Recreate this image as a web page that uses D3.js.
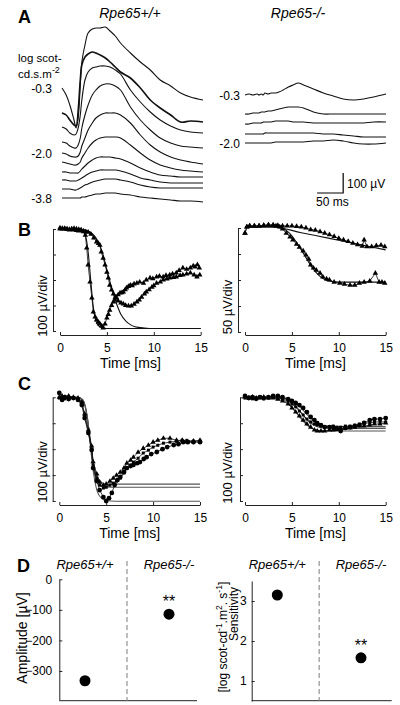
<!DOCTYPE html>
<html><head><meta charset="utf-8">
<script src="https://cdn.jsdelivr.net/npm/d3@7"></script>
<style>body{margin:0;background:#fff}svg{display:block}</style>
</head><body><svg width="400" height="705"></svg>
<script>
// ---------- DATA ----------
// Panel A: ERG traces (µV relative to each trace's own start), sampled at aTime (ms)
const aTime = [0,8,15,23,27,31,35,38,44,50,58,65,73,83,92,102,112,131,150,169,188,208,227,246,270];
const wtLabels = ["-0.3","-2.0","-3.8"];
const koLabels = ["-0.3","-2.0"];
const wtTraces = [
 [0,-35,-85,-160,-200,-150,15,130,215,275,295,300,300,305,285,260,225,175,130,90,40,10,-25,-45,-60],
 [0,-10,-35,-60,-65,15,165,240,280,295,305,300,290,275,255,230,205,175,125,65,25,-10,-45,-40,-45],
 [0,-10,-30,-40,-35,-5,60,135,235,275,295,300,305,305,300,285,265,185,125,75,35,5,-15,-25,-30],
 [0,-5,-20,-30,-30,-15,20,70,135,185,235,260,280,290,290,280,260,175,110,60,20,-5,-20,-25,-30],
 [0,-5,-15,-20,-20,-15,5,35,75,115,150,175,190,200,200,200,190,150,90,40,5,-20,-35,-45,-55],
 [0,-5,-10,-15,-15,-10,0,20,45,70,95,110,120,125,125,125,120,85,45,10,-15,-30,-40,-45,-50],
 [0,0,-5,-5,-5,-5,5,15,30,45,60,70,75,75,75,70,65,45,20,0,-15,-20,-25,-25,-25],
 [0,0,-5,-5,-5,0,5,10,20,30,40,45,50,50,50,50,45,30,10,0,-10,-15,-15,-15,-15],
 [0,0,0,-5,-5,0,5,10,20,25,35,40,45,50,50,50,45,35,20,10,5,5,5,5,5],
 [0,0,0,0,0,0,0,5,5,10,15,20,20,25,25,25,20,15,5,0,-5,-10,-15,-15,-20]
];
const wtOffsets = [550,425,355,280,225,180,130,90,45,0];
const wtLabelIdx = [0,4,9];
const koTraces = [
 [0,5,0,5,0,5,0,10,5,10,10,15,25,40,50,60,50,30,10,-5,-20,-25,-20,-10,5],
 [0,0,5,5,5,10,10,10,15,15,20,25,30,35,35,35,30,10,0,0,0,0,0,0,0],
 [0,0,5,5,5,5,10,10,10,10,15,15,15,15,10,10,10,5,5,5,5,5,5,10,10],
 [0,0,0,0,0,0,0,5,5,5,5,5,5,5,5,5,5,5,0,0,-5,-10,-15,-15,-15],
 [0,0,0,0,0,0,0,0,0,0,5,5,5,5,5,5,5,10,10,15,10,0,-5,-5,0]
];
const koOffsets = [515,420,370,320,275];
const koLabelIdx = [0,4];

// Panel B left (100 µV/div)
const bFastT = [0,0.25,0.5,0.75,1,1.25,1.5,1.75,2,2.25,2.5,2.7,2.85,3.0,3.2,3.4,3.55,3.75,3.9,4.1,4.25,4.45,4.6,4.8,5.0,5.15,5.3,5.5,5.7,5.85,6.0,6.2,6.4,6.6,6.75,6.95,7.1,7.3,7.5,7.7,7.9,8.2,8.5,8.9,9.2,9.6,9.9,10.3,10.6,11,11.3,11.7,12.0,12.4,12.7,13.1,13.5,13.9,14.2,14.4,14.65,14.85];
const bFastV = [4,0,2,0,-2,0,2,0,-2,-4,-10,-24,-74,-141,-208,-270,-325,-345,-357,-365,-372,-380,-388,-372,-349,-335,-318,-300,-286,-275,-267,-258,-251,-250,-247,-238,-231,-225,-220,-222,-215,-212,-208,-212,-200,-192,-195,-188,-185,-188,-182,-180,-176,-172,-162,-153,-158,-153,-145,-149,-140,-153];
const bSlowT = [0,0.25,0.5,0.75,1,1.25,1.5,1.75,2,2.25,2.5,2.75,3,3.3,3.6,3.9,4.1,4.25,4.4,4.6,4.8,5.0,5.15,5.3,5.5,5.7,5.9,6.2,6.5,6.75,7.0,7.3,7.6,7.9,8.2,8.45,8.7,9.0,9.2,9.5,9.8,10.0,10.3,10.7,11,11.4,11.7,12.1,12.4,12.8,13.1,13.5,13.9,14.3,14.6,14.9];
const bSlowV = [0,2,0,-2,-4,-2,-4,-6,-8,-6,-8,-10,-12,-20,-35,-51,-57,-63,-90,-114,-141,-169,-192,-220,-239,-255,-267,-282,-290,-294,-300,-302,-302,-295,-286,-278,-267,-255,-247,-238,-228,-222,-212,-208,-200,-196,-192,-190,-188,-182,-180,-176,-172,-180,-188,-180];
const bFitFastT = [0,1,2,2.5,2.75,3,3.25,3.5,3.75,4,4.5,5,6,15];
const bFitFastV = [0,0,-2,-10,-30,-90,-190,-290,-350,-375,-388,-390,-390,-390];
const bFitSlowT = [0,2,3,3.5,4,4.5,5,5.5,6,6.5,7,7.5,8,9,10,15];
const bFitSlowV = [0,0,-8,-20,-45,-90,-160,-230,-290,-335,-360,-375,-383,-388,-390,-390];

// Panel B right (50 µV/div)
const bDimT = [0,0.2,0.5,1,1.5,2,2.5,3,3.5,4,4.5,5,5.5,6,6.5,7,7.5,8,8.5,9,9.5,10,10.5,11,11.5,12,12.5,12.7,13,13.5,14,14.5,14.9];
const bDimV = [-10,2,4,4,4,5,6,6,5,4,4,4,3,2,0,-3,-4,-7,-10,-13,-16,-20,-23,-26,-29,-32,-35,-23,-36,-36,-34,-33,-36];
const bBrightT = [0,0.2,0.5,1,1.5,2,2.5,3,3.3,3.7,4.0,4.4,4.8,5.1,5.5,5.8,6.2,6.5,6.8,7.0,7.3,7.6,8.0,8.3,8.7,9.0,9.5,10.1,10.6,11.2,11.7,12.2,12.7,13.3,13.9,14.3,14.6,14.9];
const bBrightV = [-10,2,4,4,4,5,6,5,4,2,-2,-10,-17,-23,-31,-37,-44,-52,-60,-71,-77,-81,-87,-94,-98,-100,-104,-106,-108,-110,-110,-106,-104,-102,-87,-104,-104,-106];
const bFitDimT = [0,3,6,9,12,15];
const bFitDimV = [2,2,-9,-20,-31,-42];
const bFitBrightT = [0,3,4,4.5,5,5.5,6,6.5,7,7.5,8,8.5,9,10,15];
const bFitBrightV = [2,2,-1,-6,-15,-28,-42,-57,-72,-84,-93,-99,-102,-104,-104];

// Panel C left
const cT12 = [0,0.3,0.6,1,1.5,2,2.4,2.7,3.1,3.45,3.6,4.0,4.3,4.7,5.0,5.4,5.75,6.1,6.5,6.9,7.2,7.6,7.9,8.4,8.95,9.5,10,10.5,11.1,11.8,12.5,13.1,13.6,14.3,15];
const cV1 = [0,5,0,5,0,-3,-18,-64,-126,-188,-249,-296,-327,-339,-335,-324,-312,-301,-289,-273,-254,-243,-231,-212,-197,-185,-173,-166,-158,-158,-166,-166,-172,-169,-166];
const cV2 = [-3,0,-6,0,-3,-6,-22,-72,-134,-200,-261,-312,-339,-350,-347,-339,-331,-323,-312,-292,-273,-262,-250,-235,-215,-204,-192,-185,-177,-173,-170,-166,-166,-169,-169];
const cT3 = [0,0.3,0.6,1,1.5,2,2.4,2.7,3.1,3.45,3.6,4.0,4.3,4.7,5.0,5.3,5.6,5.9,6.2,6.5,6.9,7.2,7.6,7.9,8.3,8.6,9.0,9.3,9.8,10.4,11,11.5,12.2,12.7,13.2,13.7,14.3,15];
const cV3 = [17,-10,1,-7,-3,-10,-30,-80,-138,-203,-273,-323,-358,-385,-400,-389,-369,-338,-319,-307,-288,-273,-265,-261,-254,-250,-238,-231,-219,-211,-200,-192,-184,-181,-173,-173,-173,-173];
const cFitT = [0,2,2.5,3,3.25,3.5,3.75,4,4.5,5,6,15];
const cFit1 = [0,0,-10,-80,-150,-220,-275,-305,-328,-335,-335,-335];
const cFit2 = [0,0,-10,-80,-155,-230,-285,-318,-340,-346,-347,-347];
const cFit3 = [0,0,-10,-85,-165,-250,-315,-358,-390,-398,-401,-401];

// Panel C right
const crT = [0,0.4,0.8,1.2,1.6,2,2.5,3,3.5,4,4.6,5,5.4,5.8,6.2,6.6,7.0,7.4,7.7,8.1,8.5,9,9.4,9.8,10.2,10.7,11.2,11.7,12.2,12.7,13.3,13.8,14.4,15];
const crV1 = [5,-3,1,-6,1,-3,1,5,5,1,-7,-14,-22,-30,-41,-57,-76,-88,-100,-107,-115,-115,-115,-122,-130,-118,-115,-111,-107,-99,-88,-84,-84,-80];
const crV2 = [-3,1,-6,-3,1,-6,-3,1,-3,-6,-14,-26,-37,-53,-68,-84,-95,-103,-107,-111,-115,-115,-111,-115,-115,-111,-111,-107,-103,-99,-99,-95,-95,-95];
const crV3 = [1,-3,1,-3,-3,1,-3,-3,-7,-14,-26,-41,-57,-72,-88,-103,-115,-126,-130,-130,-130,-126,-126,-122,-122,-118,-118,-115,-111,-111,-107,-103,-103,-99];
const crFitT = [0,3.5,4,4.5,5,5.5,6,6.5,7,7.5,8,8.5,9,10,15];
const crFit1 = [0,0,-2,-5,-12,-25,-42,-62,-80,-95,-105,-110,-112,-113,-113];
const crFit2 = [0,0,-3,-8,-20,-38,-60,-82,-100,-110,-116,-118,-119,-120,-120];
const crFit3 = [0,-2,-8,-20,-38,-60,-83,-103,-117,-125,-128,-129,-130,-130,-130];

const timeTicks = [0,5,10,15];

// Panel D
const dGroups = ["Rpe65+/+","Rpe65-/-"];
const dAmp = [-332,-114];
const dAmpErr = [10,5];
const dAmpTicks = [0,-100,-200,-300];
const dSens = [3.15,1.58];
const dSensErr = [0.05,0.04];
const dSensTicks = [1,2,3];
const dSig = ["","**"];

// ---------- DRAW ----------
const svg = d3.select("svg");
const FONT = "Arial, 'Liberation Sans', Helvetica, sans-serif";
function T(x,y,s,o={}){
  const t = svg.append("text").attr("x",x).attr("y",y).text(s)
    .attr("font-family",FONT).attr("font-size",o.size||12)
    .attr("text-anchor",o.anchor||"start").attr("fill","#000")
    .attr("font-weight",o.weight||"normal").attr("font-style",o.style||"normal");
  if(o.rot) t.attr("transform",`rotate(-90,${x},${y})`);
  return t;
}

// ===== A =====
T(18,23,"A",{size:18,weight:"bold"});
T(130,18,"Rpe65+/+",{size:14,style:"italic",anchor:"middle"});
T(298,18,"Rpe65-/-",{size:14,style:"italic",anchor:"middle"});
T(18,62,"log scot-",{size:11.5});
const lu = T(18,78,"cd.s.m",{size:11.5});
lu.append("tspan").attr("dy",-5).attr("font-size",9).text("-2");

const xAL = d3.scaleLinear().domain([0,270]).range([62,203]);
const xAR = d3.scaleLinear().domain([0,270]).range([245,386]);
const yA = d3.scaleLinear().domain([0,100]).range([198,178]);
function drawTraces(traces, offsets, xs){
  traces.forEach((tr,k)=>{
    const line = d3.line().x((d,i)=>xs(aTime[i])).y(d=>yA(d+offsets[k])).curve(d3.curveCatmullRom);
    svg.append("path").attr("d",line(tr)).attr("fill","none").attr("stroke","#111")
      .attr("stroke-width", k===1 && traces.length>5 ? 1.6 : 1.1);
  });
}
drawTraces(wtTraces, wtOffsets, xAL);
drawTraces(koTraces, koOffsets, xAR);
wtLabelIdx.forEach((k,j)=>T(52,yA(wtOffsets[k])+5,wtLabels[j],{size:12,anchor:"end"}));
koLabelIdx.forEach((k,j)=>T(240,yA(koOffsets[k])+5,koLabels[j],{size:12,anchor:"end"}));
// scale bar: 50 ms, 100 µV
const sbT = 138, sbV = 25;
svg.append("path").attr("d",`M${xAR(sbT)},${yA(sbV)}H${xAR(sbT+50)}V${yA(sbV+100)}`)
  .attr("fill","none").attr("stroke","#000").attr("stroke-width",1.2);
T(347,188,"100 µV",{size:12});
T(316,206,"50 ms",{size:12});

// ===== generic time panel =====
function timePanel(o){
  const xs = d3.scaleLinear().domain([0,15]).range(o.xr);
  const ys = d3.scaleLinear().domain(o.yd).range(o.yr);
  const gy = svg.append("g").attr("transform",`translate(${o.axX},0)`)
    .call(d3.axisLeft(ys).tickValues(o.yTicks).tickSize(-3).tickSizeOuter(0).tickFormat(""));
  const gx = svg.append("g").attr("transform",`translate(0,${o.axY})`)
    .call(d3.axisBottom(xs).tickValues(timeTicks).tickSize(-3).tickSizeOuter(0).tickPadding(8));
  [gy,gx].forEach(g=>{g.selectAll("path,line").attr("stroke","#222");
    g.selectAll("text").attr("font-family",FONT).attr("font-size",12).attr("fill","#000");});
  T((o.xr[0]+o.xr[1])/2, o.axY+33, "Time [ms]", {size:14,anchor:"middle"});
  T(o.ylx, o.yly, o.ylabel, {size:13,anchor:"middle",rot:true});
  o.fits.forEach(f=>{
    const line = d3.line().x((d,i)=>xs(f.t[i])).y(d=>ys(d)).curve(d3.curveMonotoneX);
    svg.append("path").attr("d",line(f.v)).attr("fill","none").attr("stroke",f.c||"#111").attr("stroke-width",1.1);
  });
  o.data.forEach(s=>{
    const line = d3.line().x((d,i)=>xs(s.t[i])).y(d=>ys(d));
    svg.append("path").attr("d",line(s.v)).attr("fill","none").attr("stroke","#111").attr("stroke-width",0.8);
    const sym = d3.symbol().type(s.sym).size(s.size);
    svg.append("g").selectAll("path").data(s.v).join("path")
      .attr("transform",(d,i)=>`translate(${xs(s.t[i])},${ys(d)})`)
      .attr("d",sym()).attr("fill","#000");
  });
}

// ===== B =====
T(18,236,"B",{size:18,weight:"bold"});
timePanel({xr:[60,200.7], yd:[0,-400], yr:[229,331], yTicks:[0,-100,-200,-300,-400], axX:53, axY:335,
  ylabel:"100 µV/div", ylx:47, yly:306,
  fits:[{t:bFitFastT,v:bFitFastV},{t:bFitSlowT,v:bFitSlowV}],
  data:[{t:bFastT,v:bFastV,sym:d3.symbolTriangle,size:13},{t:bSlowT,v:bSlowV,sym:d3.symbolTriangle,size:13}]});
timePanel({xr:[245,385.7], yd:[0,-200], yr:[228,332], yTicks:[0,-50,-100,-150,-200], axX:238, axY:335,
  ylabel:"50 µV/div", ylx:232, yly:307,
  fits:[{t:bFitDimT,v:bFitDimV},{t:bFitBrightT,v:bFitBrightV}],
  data:[{t:bDimT,v:bDimV,sym:d3.symbolTriangle,size:13},{t:bBrightT,v:bBrightV,sym:d3.symbolTriangle,size:13}]});

// ===== C =====
T(18,390,"C",{size:18,weight:"bold"});
timePanel({xr:[59.3,200], yd:[0,-400], yr:[397.3,501], yTicks:[0,-100,-200,-300,-400], axX:52.7, axY:505,
  ylabel:"100 µV/div", ylx:47, yly:472,
  fits:[{t:cFitT,v:cFit1,c:"#555"},{t:cFitT,v:cFit2,c:"#555"},{t:cFitT,v:cFit3,c:"#555"}],
  data:[{t:cT12,v:cV1,sym:d3.symbolTriangle,size:12},{t:cT12,v:cV2,sym:d3.symbolSquare,size:9},{t:cT3,v:cV3,sym:d3.symbolCircle,size:18}]});
timePanel({xr:[245,385.7], yd:[0,-400], yr:[397.3,501], yTicks:[0,-100,-200,-300,-400], axX:240, axY:505,
  ylabel:"100 µV/div", ylx:232, yly:473,
  fits:[{t:crFitT,v:crFit1,c:"#555"},{t:crFitT,v:crFit2,c:"#555"},{t:crFitT,v:crFit3,c:"#555"}],
  data:[{t:crT,v:crV1,sym:d3.symbolCircle,size:18},{t:crT,v:crV2,sym:d3.symbolSquare,size:9},{t:crT,v:crV3,sym:d3.symbolTriangle,size:12}]});

// ===== D =====
T(17,572,"D",{size:18,weight:"bold"});
function dotPanel(o){
  const xs = d3.scaleLinear().domain([0,1]).range(o.pts);
  const ys = d3.scaleLinear().domain(o.yd).range(o.yr);
  const gy = svg.append("g").attr("transform",`translate(${o.axX},0)`)
    .call(d3.axisLeft(ys).tickValues(o.ticks).tickSize(-3).tickSizeOuter(0).tickPadding(o.pad).tickFormat(d3.format("d")));
  gy.selectAll("path,line").attr("stroke","#222");
  gy.selectAll("text").attr("font-family",FONT).attr("font-size",12).attr("fill","#000");
  svg.append("line").attr("x1",o.axX).attr("x2",o.xEnd).attr("y1",o.axY).attr("y2",o.axY).attr("stroke","#222");
  svg.append("line").attr("x1",xs(0.5)).attr("x2",xs(0.5)).attr("y1",o.dashTop).attr("y2",o.axY)
    .attr("stroke","#888").attr("stroke-dasharray","5,3").attr("stroke-width",1.1);
  dGroups.forEach((g,i)=>T(xs(i),569,g,{size:13,style:"italic",anchor:"middle"}));
  o.vals.forEach((v,i)=>{
    svg.append("line").attr("x1",xs(i)).attr("x2",xs(i)).attr("y1",ys(v-o.err[i])).attr("y2",ys(v+o.err[i])).attr("stroke","#999").attr("stroke-width",1.5);
    svg.append("circle").attr("cx",xs(i)).attr("cy",ys(v)).attr("r",5.5).attr("fill","#000");
    if(dSig[i]) T(xs(i),ys(v)-7,dSig[i],{size:16,anchor:"middle"});
  });
}
dotPanel({pts:[85,169], yd:[0,-395], yr:[579.3,700], ticks:dAmpTicks, axX:59.3, axY:700.7, xEnd:197, dashTop:561, vals:dAmp, err:dAmpErr, pad:7});
dotPanel({pts:[277.3,361], yd:[3.5,0.5], yr:[581,701], ticks:dSensTicks, axX:251.7, axY:700.7, xEnd:391.7, dashTop:561, vals:dSens, err:dSensErr, pad:5});
T(27,638,"Amplitude [µV]",{size:14,anchor:"middle",rot:true});
T(238,614,"Sensitivity",{size:12,anchor:"middle",rot:true});
const sl = T(227,637,"[log scot-cd",{size:12,anchor:"middle",rot:true});
sl.append("tspan").attr("dy",-5).attr("font-size",8.5).text("-1");
sl.append("tspan").attr("dy",5).text(".m");
sl.append("tspan").attr("dy",-5).attr("font-size",8.5).text("2");
sl.append("tspan").attr("dy",5).text(". s");
sl.append("tspan").attr("dy",-5).attr("font-size",8.5).text("-1");
sl.append("tspan").attr("dy",5).text("]");
</script></body></html>
